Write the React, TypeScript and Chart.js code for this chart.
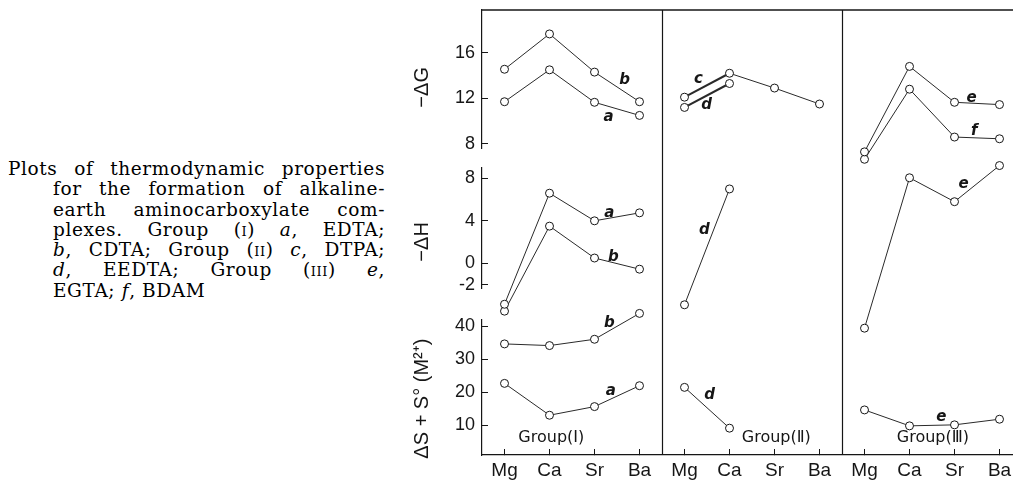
import React, { useEffect, useRef } from 'react';
import { Chart, registerables } from 'chart.js';

Chart.register(...registerables);

// ---------- data ----------
const metals = ['Mg', 'Ca', 'Sr', 'Ba'];
const xLabels = [...metals, ...metals, ...metals];
const groupLabels = ['Group(Ⅰ)', 'Group(Ⅱ)', 'Group(Ⅲ)'];

const ticksG = [8, 12, 16];
const ticksH = [-2, 0, 4, 8];
const ticksS = [10, 20, 30, 40];

// −ΔG
const dGa = [11.7, 14.5, 11.65, 10.5];
const dGb = [14.55, 17.65, 14.3, 11.7];
const dGc = [12.1, 14.2, 12.9, 11.5];
const dGd = [11.2, 13.3, null, null];
const dGe = [7.3, 14.8, 11.65, 11.45];
const dGf = [6.65, 12.8, 8.6, 8.45];
// −ΔH
const dHa = [-3.85, 6.6, 4.0, 4.75];
const dHb = [-4.5, 3.5, 0.5, -0.55];
const dHd = [-3.9, 7.0, null, null];
const dHe = [-6.1, 8.05, 5.8, 9.2];
// ΔS + S°(M2+)
const dSa = [22.7, 13.1, 15.7, 22.0];
const dSb = [34.6, 34.1, 36.0, 43.8];
const dSd = [21.5, 9.2, null, null];
const dSe = [14.7, 9.9, 10.2, 11.9];

const series = [
  { group: 0, axis: 'yG', values: dGa },
  { group: 0, axis: 'yG', values: dGb },
  { group: 1, axis: 'yG', values: dGc, bold: true },
  { group: 1, axis: 'yG', values: dGd, bold: true },
  { group: 2, axis: 'yG', values: dGe },
  { group: 2, axis: 'yG', values: dGf },
  { group: 0, axis: 'yH', values: dHa },
  { group: 0, axis: 'yH', values: dHb },
  { group: 1, axis: 'yH', values: dHd },
  { group: 2, axis: 'yH', values: dHe },
  { group: 0, axis: 'yS', values: dSa },
  { group: 0, axis: 'yS', values: dSb },
  { group: 1, axis: 'yS', values: dSd },
  { group: 2, axis: 'yS', values: dSe },
];

// curve letters, placed in data units (category index, axis value)
const curveTags = [
  { text: 'b', axis: 'yG', x: 2.67, y: 13.6 },
  { text: 'a', axis: 'yG', x: 2.31, y: 10.36 },
  { text: 'a', axis: 'yH', x: 2.33, y: 4.73 },
  { text: 'b', axis: 'yH', x: 2.42, y: 0.59 },
  { text: 'b', axis: 'yS', x: 2.33, y: 40.9 },
  { text: 'a', axis: 'yS', x: 2.36, y: 20.4 },
  { text: 'c', axis: 'yG', x: 4.31, y: 13.7 },
  { text: 'd', axis: 'yG', x: 4.49, y: 11.4 },
  { text: 'd', axis: 'yH', x: 4.44, y: 3.1 },
  { text: 'd', axis: 'yS', x: 4.56, y: 19.2 },
  { text: 'e', axis: 'yG', x: 10.38, y: 12.0 },
  { text: 'f', axis: 'yG', x: 10.44, y: 9.1 },
  { text: 'e', axis: 'yH', x: 10.2, y: 7.46 },
  { text: 'e', axis: 'yS', x: 9.71, y: 12.6 },
];
const groupTagX = [1.04, 6.04, 9.52];
const groupTagY = 6.2;

const INK = '#161616';

const place = (vals: (number | null)[], group: number) =>
  xLabels.map((_, i) => (Math.floor(i / 4) === group ? (vals[i % 4] ?? null) : null));

const framePlugin = {
  id: 'frame',
  beforeDatasetsDraw(chart: any) {
    const { ctx, chartArea: a, scales } = chart;
    const x = scales.x;
    ctx.save();
    ctx.strokeStyle = INK;
    ctx.lineWidth = 1.4;
    ctx.beginPath();
    ctx.moveTo(a.left, a.top);
    ctx.lineTo(a.right, a.top);
    ctx.stroke();
    ctx.lineWidth = 1.2;
    ctx.beginPath();
    [4, 8].forEach((i) => {
      const px = Math.round((x.getPixelForValue(i - 1) + x.getPixelForValue(i)) / 2) + 0.5;
      ctx.moveTo(px, a.top);
      ctx.lineTo(px, a.bottom);
    });
    ctx.stroke();
    ctx.restore();
  },
  afterDatasetsDraw(chart: any) {
    const { ctx, scales } = chart;
    const x = scales.x;
    ctx.save();
    ctx.fillStyle = INK;
    ctx.textAlign = 'center';
    ctx.textBaseline = 'middle';
    ctx.font = 'italic bold 15px "DejaVu Sans"';
    curveTags.forEach((t) => {
      ctx.fillText(t.text, x.getPixelForValue(t.x), scales[t.axis].getPixelForValue(t.y));
    });
    ctx.font = '16px "DejaVu Sans"';
    groupLabels.forEach((g, i) => {
      ctx.fillText(g, x.getPixelForValue(groupTagX[i]), scales.yS.getPixelForValue(groupTagY));
    });
    ctx.restore();
  },
};

const yAxis = (
  min: number,
  max: number,
  order: number,
  stackWeight: number,
  ticks: number[],
  title: string
) => ({
  type: 'linear',
  axis: 'y',
  position: 'left',
  stack: 'left',
  stackWeight,
  weight: order,
  min,
  max,
  border: { display: true, color: INK, width: 1.2 },
  grid: { drawOnChartArea: false, drawTicks: true, tickLength: -6, color: INK, lineWidth: 1 },
  ticks: {
    color: INK,
    font: { family: 'Liberation Sans', size: 18 },
    padding: 13,
    autoSkip: false,
    callback: (v: number) => String(v),
  },
  afterBuildTicks: (s: any) => {
    s.ticks = ticks.map((v) => ({ value: v }));
  },
  afterFit: (s: any) => {
    s.width = 87;
    s.paddingTop = 0;
    s.paddingBottom = 0;
  },
  title: {
    display: true,
    text: title,
    color: INK,
    font: { family: 'Liberation Sans', size: 20 },
    padding: { top: 15, bottom: 0 },
  },
});

const spacer = (order: number, stackWeight: number) => ({
  type: 'linear',
  axis: 'y',
  position: 'left',
  stack: 'left',
  stackWeight,
  weight: order,
  min: 0,
  max: 1,
  border: { display: false },
  grid: { display: false },
  ticks: { display: false },
  title: { display: false },
  afterFit: (s: any) => {
    s.width = 87;
    s.paddingTop = 0;
    s.paddingBottom = 0;
  },
});

function ChartBox() {
  const ref = useRef<HTMLCanvasElement | null>(null);
  useEffect(() => {
    if (!ref.current) return;
    const datasets = series.map((s) => ({
      data: place(s.values, s.group),
      yAxisID: s.axis,
      xAxisID: 'x',
      borderColor: '#2a2a2a',
      borderWidth: 1,
      pointRadius: 4,
      pointBorderWidth: 1,
      pointBackgroundColor: '#fff',
      pointBorderColor: INK,
      fill: false,
      tension: 0,
      spanGaps: false,
      clip: false,
      segment: s.bold
        ? { borderWidth: (c: any) => (c.p0DataIndex === 4 ? 2 : 1) }
        : undefined,
    }));
    const chart = new Chart(ref.current, {
      type: 'line',
      data: { labels: xLabels, datasets },
      options: {
        responsive: false,
        animation: false,
        devicePixelRatio: 1,
        layout: { padding: { top: 10, right: 23, bottom: 0, left: 0 } },
        plugins: { legend: { display: false }, tooltip: { enabled: false } },
        scales: {
          x: {
            type: 'category',
            position: 'bottom',
            offset: true,
            border: { display: true, color: INK, width: 1.2 },
            grid: { offset: false, drawOnChartArea: false, drawTicks: true, tickLength: -6, color: INK },
            ticks: {
              color: INK,
              font: { family: 'Liberation Sans', size: 19 },
              padding: 10,
              autoSkip: false,
              maxRotation: 0,
            },
            afterFit: (s: any) => {
              s.height = 28;
              s.paddingLeft = 0;
              s.paddingRight = 0;
            },
          },
          yG: yAxis(7.64, 19.75, 5, 138, ticksG, '−ΔG   '),
          sp1: spacer(4, 20),
          yH: yAxis(-2.32, 8.97, 3, 120, ticksH, '−ΔH     '),
          sp2: spacer(2, 32),
          yS: yAxis(1.11, 41.81, 1, 135, ticksS, 'ΔS + S° (M²⁺)    '),
        } as any,
      },
      plugins: [framePlugin],
    } as any);
    return () => chart.destroy();
  }, []);
  return (
    <canvas
      ref={ref}
      width={650}
      height={483}
      style={{ position: 'absolute', left: 395, top: 0, width: 650, height: 483 }}
    />
  );
}

const sc = (t: string) => <span style={{ fontVariant: 'small-caps' }}>{t}</span>;

function Caption() {
  const line = (indent: number, justify: boolean) => ({
    marginLeft: indent,
    width: 385 - indent,
    textAlign: 'justify' as const,
    textAlignLast: (justify ? 'justify' : 'left') as any,
    height: 20.3,
  });
  return (
    <div
      style={{
        position: 'absolute',
        left: 0,
        top: 159,
        fontFamily: '"DejaVu Serif"',
        fontSize: 18.5,
        lineHeight: '20.3px',
        letterSpacing: '0.6px',
        color: '#000',
      }}
    >
      <div style={line(8, true)}>Plots of thermodynamic properties</div>
      <div style={line(53, true)}>for the formation of alkaline-</div>
      <div style={line(53, true)}>earth aminocarboxylate com-</div>
      <div style={line(53, true)}>
        plexes. Group ({sc('i')}) <i>a</i>, EDTA;
      </div>
      <div style={line(53, true)}>
        <i>b</i>, CDTA; Group ({sc('ii')}) <i>c</i>, DTPA;
      </div>
      <div style={line(53, true)}>
        <i>d</i>, EEDTA; Group ({sc('iii')}) <i>e</i>,
      </div>
      <div style={line(53, false)}>
        EGTA; <i>f</i>, BDAM
      </div>
    </div>
  );
}

export default function App() {
  return (
    <div
      style={{
        position: 'fixed',
        left: 0,
        top: 0,
        width: 1013,
        height: 483,
        overflow: 'hidden',
        background: '#fff',
      }}
    >
      <Caption />
      <ChartBox />
    </div>
  );
}
